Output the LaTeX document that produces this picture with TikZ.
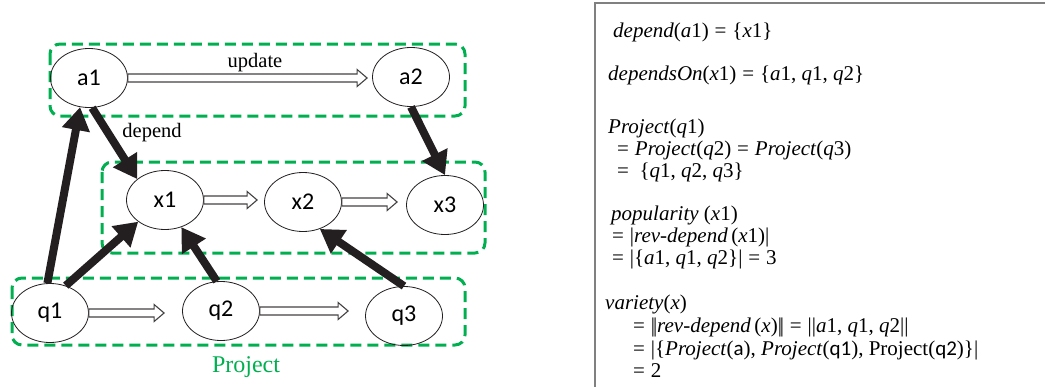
\documentclass[tikz,border=0pt]{standalone}
\usepackage{fontspec}
\setmainfont{Liberation Serif}
\newfontfamily\calib{Carlito}
\usepackage{tikz}
\usetikzlibrary{positioning}
\usetikzlibrary{shapes.geometric}
\usetikzlibrary{arrows.meta}
\usetikzlibrary{calc}
\definecolor{grpgreen}{RGB}{0,176,80}
\definecolor{ink}{RGB}{35,31,32}
\newcommand\eqsign{\hspace{0.28em}=\hspace{0.28em}}
\newcommand\dbar{|\kern-0.1em|}
\tikzset{
  elem/.style={ellipse, draw=ink, line width=0.8pt, minimum width=77pt, minimum height=59pt, inner sep=0pt, font=\calib\fontsize{24}{24}\selectfont},
  grp/.style={draw=grpgreen, line width=3pt, dash pattern=on 11pt off 6pt, rounded corners=10pt},
  heavy/.style={draw=ink, line width=8pt, -{Triangle[length=23pt,width=27pt]}},
  hollow/.style={draw=ink!85, line width=1.1pt, fill=white,
    to path={let \p1=(\tikztostart.east), \p2=(\tikztotarget.west) in
      (\x1,\y1+4pt) -- (\x2-#1-10pt,\y1+4pt) -- ++(0,4.5pt) -- (\x2-#1,\y1)
      -- (\x2-#1-10pt,\y1-8.5pt) -- ++(0,4.5pt) -- (\x1,\y1-4pt) -- cycle}},
  hollow/.default=6,
  lbl/.style={anchor=base, inner sep=0pt, font=\fontsize{20.5}{24}\selectfont},
  eq/.style={anchor=base west, inner sep=0pt, font=\fontsize{21}{22}\selectfont},
}

\begin{document}
\begin{tikzpicture}[x=1pt, y=-1pt]
  \useasboundingbox (0,0) rectangle (1045,386);
  % groups
  \draw[grp] (50,44) rectangle (465,116);
  \draw[grp] (102,162) rectangle (485,253);
  \draw[grp] (12,278) rectangle (465,345);
  % elements
  \node[elem] at (89,78) (a1) {a1};
  \node[elem] at (411,77) (a2) {a2};
  \node[elem] at (165,200) (x1) {x1};
  \node[elem] at (303,202) (x2) {x2};
  \node[elem] at (445,205) (x3) {x3};
  \node[elem] at (50,313) (q1) {q1};
  \node[elem] at (221,311) (q2) {q2};
  \node[elem] at (404,316) (q3) {q3};
  % successor arrows
  \draw[hollow=5] (a1) to (a2);
  \draw[hollow=7] (x1) to (x2);
  \draw[hollow=9] (x2) to (x3);
  \draw[hollow=18] (q1) to (q2);
  \draw[hollow=17] (q2) to (q3);
  % depend arrows
  \draw[heavy] (q1.95) -- (a1.253);
  \draw[heavy] (a1.276) -- (x1.143);
  \draw[heavy] (a2.270) -- (x3.90);
  \draw[heavy] (q1.60) -- (x1.219);
  \draw[heavy] (q2.98) -- (x1.301);
  \draw[heavy] (q3.90) -- (x2.302);
  \node[lbl] at (255,67) (upd) {update};
  \node[lbl] at (152,137) (dep) {depend};
  \node[lbl, text=grpgreen, font=\fontsize{24}{28}\selectfont] at (246,372) (prj) {Project};
  % definitions
  \draw[draw=gray, line width=2pt] (595,392) -- (595,3) -- (1050,3);
  \node[eq] at (613,37) (l1) {\textit{depend}(\textit{a}1)\eqsign\{\textit{x}1\}};
  \node[eq] at (608,80) (l2) {\textit{dependsOn}(\textit{x}1)\eqsign\{\textit{a}1, \textit{q}1, \textit{q}2\}};
  \node[eq] at (608,133) (l3) {\textit{Project}(\textit{q}1)};
  \node[eq] at (617,155) (l4) {=\hspace{0.28em}\textit{Project}(\textit{q}2)\eqsign\textit{Project}(\textit{q}3)};
  \node[eq] at (617,177) (l5) {=\enspace\{\textit{q}1, \textit{q}2, \textit{q}3\}};
  \node[eq] at (611,220) (l6) {\textit{popularity} (\textit{x}1)};
  \node[eq] at (612,242) (l7) {=\hspace{0.28em}|\textit{rev-depend}\,(\textit{x}1)|};
  \node[eq] at (612,264) (l8) {=\hspace{0.28em}|\{\textit{a}1, \textit{q}1, \textit{q}2\}|\eqsign3};
  \node[eq] at (605,309) (l9) {\textit{variety}(\textit{x})};
  \node[eq] at (633,332) (l10) {=\hspace{0.28em}\dbar\textit{rev-depend}\,(\textit{x})\dbar\eqsign||\textit{a}1, \textit{q}1, \textit{q}2||};
  \node[eq] at (633,355) (l11) {=\hspace{0.28em}|\{\textit{Project}({\calib a}), \textit{Project}({\calib q1}), Project({\calib q2})\}|};
  \node[eq] at (633,377) (l12) {=\hspace{0.28em}2};
\end{tikzpicture}
\end{document}
